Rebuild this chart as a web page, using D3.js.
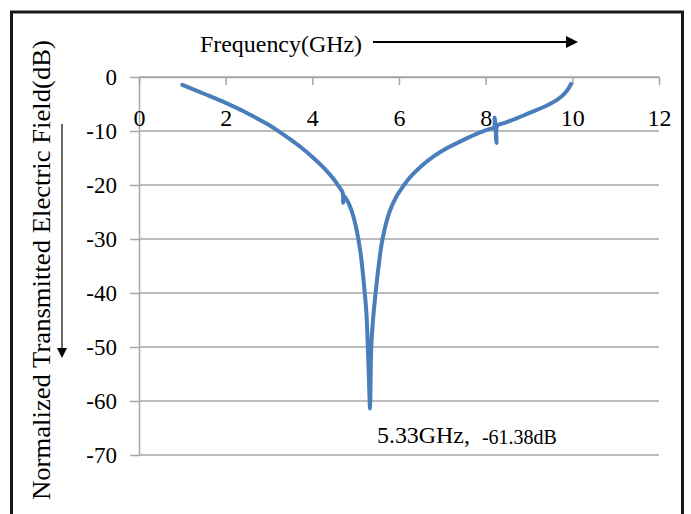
<!DOCTYPE html>
<html><head><meta charset="utf-8">
<script src="https://cdn.jsdelivr.net/npm/d3@7"></script>
<style>
html,body{margin:0;padding:0;background:#fff;}
svg{display:block;font-family:"Liberation Serif","Times New Roman",serif;}
</style></head>
<body>
<svg id="chart" width="691" height="514"></svg>
<script>
const freqGHz = [1.0,1.5,2.0,2.5,3.0,3.25,3.5,3.75,4.0,4.25,4.5,4.63,4.70,4.71,4.72,4.8,4.9,5.0,5.05,5.12,5.21,5.25,5.28,5.30,5.32,5.33,5.34,5.36,5.40,5.46,5.53,5.62,5.78,5.95,6.1,6.25,6.5,6.8,7.1,7.5,7.86,8.1,8.19,8.21,8.25,8.27,8.4,8.7,9.0,9.3,9.55,9.75,9.88,9.97];
const fieldDB = [-1.45,-3.1,-4.8,-6.7,-8.9,-10.2,-11.6,-13.1,-14.8,-16.7,-19.0,-20.5,-21.4,-23.3,-22.0,-22.8,-24.6,-27.5,-29.5,-33.0,-40.0,-44.0,-50.0,-54.5,-59.5,-61.38,-58.5,-50.0,-45.0,-40.0,-35.0,-30.0,-25.0,-22.0,-20.2,-18.6,-16.6,-14.7,-13.2,-11.6,-10.3,-9.6,-9.4,-7.5,-12.2,-9.0,-8.6,-7.7,-6.7,-5.7,-4.7,-3.6,-2.5,-1.3];
const xTicks = [0,2,4,6,8,10,12];
const yTicks = [0,-10,-20,-30,-40,-50,-60,-70];
const xTitle = "Frequency(GHz)";
const yTitle = "Normalized Transmitted Electric Field(dB)";
const annotFreq = "5.33GHz,";
const annotDB = "-61.38dB";

const svg = d3.select("#chart");
const x = d3.scaleLinear().domain([0,12]).range([139,659]);
const y = d3.scaleLinear().domain([-70,0]).range([455,77]);
const gridCol = "#a6a6a6";

// frame
svg.append("rect").attr("x",11.5).attr("y",12).attr("width",671).attr("height",540)
  .attr("fill","none").attr("stroke","#1a1a1a").attr("stroke-width",3);

// horizontal gridlines
svg.append("g").selectAll("line").data(yTicks).join("line")
  .attr("x1",x(0)).attr("x2",x(12)).attr("y1",d=>y(d)).attr("y2",d=>y(d))
  .attr("stroke",gridCol).attr("stroke-width",1.5);

// y axis
const ya = svg.append("g").attr("transform",`translate(${x(0)},0)`)
  .call(d3.axisLeft(y).tickValues(yTicks).tickSize(9).tickPadding(13).tickSizeOuter(0).tickFormat(d=>String(d)));
ya.select(".domain").attr("stroke",gridCol).attr("stroke-width",1.5);
ya.selectAll(".tick line").attr("stroke",gridCol).attr("stroke-width",1.5);
ya.selectAll(".tick text").attr("font-size",23).attr("fill","#000")
  .attr("font-family","'Liberation Serif','Times New Roman',serif");

// x axis at top (y=0)
const xa = svg.append("g").attr("transform",`translate(0,${y(0)})`)
  .call(d3.axisBottom(x).tickValues(xTicks).tickSize(8).tickPadding(24).tickSizeOuter(0));
xa.select(".domain").attr("stroke",gridCol).attr("stroke-width",1.5);
xa.selectAll(".tick line").attr("stroke",gridCol).attr("stroke-width",1.5);
xa.selectAll(".tick text").attr("font-size",24).attr("fill","#000")
  .attr("font-family","'Liberation Serif','Times New Roman',serif");

// curve
const pts = freqGHz.map((f,i)=>[f,fieldDB[i]]);
svg.append("path").datum(pts)
  .attr("d",d3.line().x(d=>x(d[0])).y(d=>y(d[1])).curve(d3.curveCatmullRom.alpha(0.5)))
  .attr("fill","none").attr("stroke","#4a7ebb").attr("stroke-width",4)
  .attr("stroke-linejoin","round").attr("stroke-linecap","round");

// x title + arrow
svg.append("text").attr("x",200).attr("y",52).attr("font-size",24).attr("fill","#000")
  .attr("textLength",162).attr("lengthAdjust","spacingAndGlyphs").text(xTitle);
svg.append("line").attr("x1",373).attr("x2",568).attr("y1",42).attr("y2",42)
  .attr("stroke","#000").attr("stroke-width",2);
svg.append("path").attr("d","M566,36 L578,42 L566,48 Z").attr("fill","#000");

// y title + arrow
svg.append("text").attr("transform","translate(50,270) rotate(-90)")
  .attr("text-anchor","middle").attr("font-size",25).attr("fill","#000")
  .attr("textLength",460).attr("lengthAdjust","spacingAndGlyphs").text(yTitle);
svg.append("line").attr("x1",62).attr("x2",62).attr("y1",124).attr("y2",350)
  .attr("stroke","#333").attr("stroke-width",1.5);
svg.append("path").attr("d","M57,348 L62,358 L67,348 Z").attr("fill","#000");

// annotation
svg.append("text").attr("x",x(5.33)+7).attr("y",443).attr("font-size",24).attr("fill","#000")
  .attr("textLength",93).attr("lengthAdjust","spacingAndGlyphs").text(annotFreq);
svg.append("text").attr("x",x(5.33)+112).attr("y",444).attr("font-size",20).attr("fill","#000")
  .attr("textLength",75).attr("lengthAdjust","spacingAndGlyphs").text(annotDB);
</script>
</body></html>
